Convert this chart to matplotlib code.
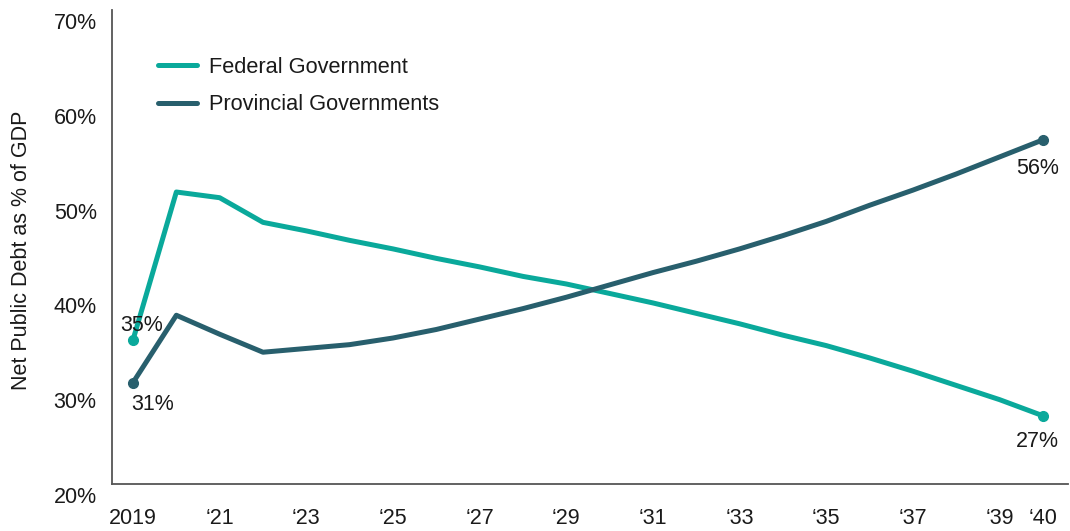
import numpy as np
import matplotlib
matplotlib.use("Agg")
import matplotlib.pyplot as plt
import matplotlib.transforms as mtransforms

plt.rcParams['font.family'] = ['Liberation Sans', 'DejaVu Sans']

# data (net public debt, % of GDP)
years = list(range(2019, 2041))
federal = [35.2, 50.8, 50.2, 47.6, 46.7, 45.7, 44.8, 43.8, 42.9, 41.9, 41.1,
           40.1, 39.1, 38.0, 36.9, 35.7, 34.6, 33.3, 31.9, 30.4, 28.9, 27.2]
provincial = [30.7, 37.8, 35.8, 33.9, 34.3, 34.7, 35.4, 36.3, 37.4, 38.5, 39.7,
              41.0, 42.3, 43.5, 44.8, 46.2, 47.7, 49.4, 51.0, 52.7, 54.5, 56.3]
xtick_years = [2019, 2021, 2023, 2025, 2027, 2029, 2031, 2033, 2035, 2037, 2039, 2040]
xtick_labels = ['2019', '\u201821', '\u201823', '\u201825', '\u201827', '\u201829',
                '\u201831', '\u201833', '\u201835', '\u201837', '\u201839', '\u201840']
yticks = [20, 30, 40, 50, 60, 70]

teal = '#0aa99b'
navy = '#285f6d'
text_col = '#1a1a1a'
fs = 15.5

fig = plt.figure(figsize=(10.7, 5.31), dpi=100)
ax = fig.add_axes([112 / 1070, 1 - 484 / 531, (1068 - 112) / 1070, (484 - 10) / 531])

ax.plot(years, federal, color=teal, lw=3.6, solid_capstyle='round',
        solid_joinstyle='round', label='Federal Government')
ax.plot(years, provincial, color=navy, lw=3.6, solid_capstyle='round',
        solid_joinstyle='round', label='Provincial Governments')
ax.plot([years[0], years[-1]], [federal[0], federal[-1]], 'o', color=teal, ms=7)
ax.plot([years[0], years[-1]], [provincial[0], provincial[-1]], 'o', color=navy, ms=7)

# end-point labels
ax.annotate('35%', (years[0], federal[0]), xytext=(9, 14), textcoords='offset pixels',
            ha='center', va='center', fontsize=fs, color=text_col)
ax.annotate('31%', (years[0], provincial[0]), xytext=(20, -22), textcoords='offset pixels',
            ha='center', va='center', fontsize=fs, color=text_col)
ax.annotate('56%', (years[-1], provincial[-1]), xytext=(-5, -29), textcoords='offset pixels',
            ha='center', va='center', fontsize=fs, color=text_col)
ax.annotate('27%', (years[-1], federal[-1]), xytext=(-5, -26), textcoords='offset pixels',
            ha='center', va='center', fontsize=fs, color=text_col)

ax.set_xlim(2018.515, 2040.58)
ax.set_ylim(20, 70)
ax.set_xticks(xtick_years)
ax.set_xticklabels(xtick_labels)
ax.set_yticks(yticks)
ax.set_yticklabels([f'{v}%' for v in yticks])
ax.tick_params(axis='both', length=0, labelsize=fs, colors=text_col)
ax.tick_params(axis='x', pad=17)
ax.tick_params(axis='y', pad=11)

# y tick labels sit a little below their value in the reference
offset = mtransforms.ScaledTranslation(0, -11 / 100, fig.dpi_scale_trans)
for lab in ax.get_yticklabels():
    lab.set_transform(lab.get_transform() + offset)

for side in ['top', 'right']:
    ax.spines[side].set_visible(False)
for side in ['left', 'bottom']:
    ax.spines[side].set_color('#555555')
    ax.spines[side].set_linewidth(1.3)

fig.text(22 / 1070, 1 - 250 / 531, 'Net Public Debt as % of GDP', rotation=90,
         ha='center', va='center', fontsize=fs, color=text_col)

leg = ax.legend(loc='upper left', bbox_to_anchor=(158 / 1070, 1 - 57 / 531),
                bbox_transform=fig.transFigure, frameon=False, fontsize=15.7,
                handlelength=1.8, handletextpad=0.55, labelspacing=0.75,
                borderaxespad=0, borderpad=0)
for t in leg.get_texts():
    t.set_color(text_col)

fig.savefig('out.png', dpi=100)
